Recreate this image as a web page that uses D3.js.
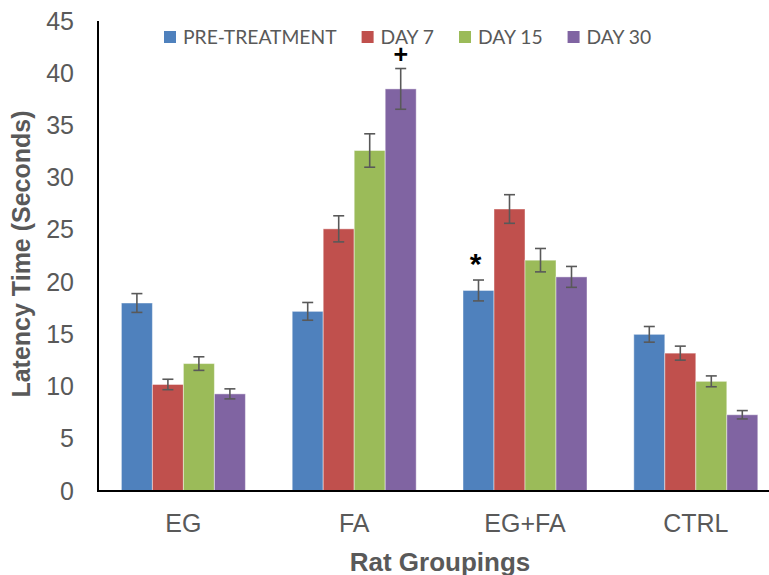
<!DOCTYPE html>
<html>
<head>
<meta charset="utf-8">
<script src="https://cdn.jsdelivr.net/npm/d3@7/dist/d3.min.js"></script>
<style>
  html, body { margin: 0; padding: 0; background: #fff; }
  svg { display: block; }
</style>
</head>
<body>
<svg id="chart" width="769" height="575"></svg>
<script>
// ---- Data ----
const categories = ["EG", "FA", "EG+FA", "CTRL"];
const seriesNames = ["PRE-TREATMENT", "DAY 7", "DAY 15", "DAY 30"];
const preTreatment = [18.0, 17.2, 19.2, 15.0];
const day7 = [10.2, 25.1, 27.0, 13.2];
const day15 = [12.2, 32.6, 22.1, 10.5];
const day30 = [9.3, 38.5, 20.5, 7.3];
const errPre = [0.9, 0.85, 1.0, 0.75];
const errDay7 = [0.5, 1.25, 1.37, 0.67];
const errDay15 = [0.65, 1.6, 1.12, 0.52];
const errDay30 = [0.48, 1.95, 1.0, 0.4];
const yTicks = [0, 5, 10, 15, 20, 25, 30, 35, 40, 45];
const annotations = [
  { category: "FA", series: "DAY 30", symbol: "+" },
  { category: "EG+FA", series: "PRE-TREATMENT", symbol: "*" }
];

const seriesValues = [preTreatment, day7, day15, day30];
const seriesErrors = [errPre, errDay7, errDay15, errDay30];
const colors = ["#4F81BD", "#C0504D", "#9BBB59", "#8064A2"];

const rows = [];
categories.forEach((c, i) => {
  seriesNames.forEach((s, j) => {
    rows.push({ category: c, series: s, value: seriesValues[j][i], err: seriesErrors[j][i] });
  });
});

// ---- Layout ----
const svg = d3.select("#chart");
const plotLeft = 98, plotTop = 21, plotBottom = 491;
const step = 170.8;
const plotRight = plotLeft + step * categories.length;

const x = d3.scaleBand().domain(categories).range([plotLeft, plotRight]).paddingInner(0.274).paddingOuter(0.137);
const xs = d3.scaleBand().domain(seriesNames).range([0, x.bandwidth()]);
const y = d3.scaleLinear().domain([0, 45]).range([plotBottom, plotTop]);
const color = d3.scaleOrdinal().domain(seriesNames).range(colors);

const textColor = "#595959";

// Bars
svg.append("g").selectAll("rect").data(rows).join("rect")
  .attr("x", d => x(d.category) + xs(d.series))
  .attr("y", d => y(d.value))
  .attr("width", xs.bandwidth())
  .attr("height", d => y(0) - y(d.value))
  .attr("fill", d => color(d.series))
  .attr("stroke", "#ffffff")
  .attr("stroke-opacity", 0.45)
  .attr("stroke-width", 1);

// Error bars
const eb = svg.append("g").attr("stroke", "#595959").attr("stroke-width", 1.6).attr("fill", "none");
const capHalf = 5.5;
rows.forEach(d => {
  const cx = x(d.category) + xs(d.series) + xs.bandwidth() / 2;
  eb.append("line").attr("x1", cx).attr("x2", cx).attr("y1", y(d.value + d.err)).attr("y2", y(d.value - d.err));
  eb.append("line").attr("x1", cx - capHalf).attr("x2", cx + capHalf).attr("y1", y(d.value + d.err)).attr("y2", y(d.value + d.err));
  eb.append("line").attr("x1", cx - capHalf).attr("x2", cx + capHalf).attr("y1", y(d.value - d.err)).attr("y2", y(d.value - d.err));
});

// Annotations
annotations.forEach(a => {
  const d = rows.find(r => r.category === a.category && r.series === a.series);
  const cx = x(d.category) + xs(d.series) + xs.bandwidth() / 2;
  const t = svg.append("text")
    .attr("text-anchor", "middle")
    .attr("font-family", "Liberation Sans, Arial, sans-serif")
    .attr("font-weight", "bold").attr("fill", "#000")
    .text(a.symbol);
  if (a.symbol === "+") {
    t.attr("x", cx).attr("y", y(d.value + d.err) - 6).attr("font-size", 25);
  } else {
    t.attr("x", cx - 3).attr("y", y(d.value + d.err) - 6).attr("font-size", 30);
  }
});

// Axes
const yAxis = d3.axisLeft(y).tickValues(yTicks).tickSize(0).tickPadding(24);
const gy = svg.append("g").attr("transform", `translate(${plotLeft},0)`).call(yAxis);
gy.select(".domain").remove();
gy.selectAll("text").attr("font-family", "Liberation Sans, Arial, sans-serif")
  .attr("font-size", 25).attr("fill", textColor);

const xAxis = d3.axisBottom(x).tickSize(0).tickPadding(23);
const gx = svg.append("g").attr("transform", `translate(0,${plotBottom})`).call(xAxis);
gx.select(".domain").remove();
gx.selectAll("text").attr("font-family", "Liberation Sans, Arial, sans-serif")
  .attr("font-size", 25).attr("fill", textColor);

// Axis lines
svg.append("line").attr("x1", plotLeft).attr("x2", plotLeft).attr("y1", plotTop).attr("y2", plotBottom + 1)
  .attr("stroke", "#000").attr("stroke-width", 2);
svg.append("line").attr("x1", plotLeft - 1).attr("x2", 769).attr("y1", plotBottom).attr("y2", plotBottom)
  .attr("stroke", "#000").attr("stroke-width", 2);

// Axis titles
svg.append("text").attr("x", 440).attr("y", 571)
  .attr("text-anchor", "middle")
  .attr("font-family", "Liberation Sans, Arial, sans-serif")
  .attr("font-weight", "bold").attr("font-size", 26).attr("fill", textColor)
  .text("Rat Groupings");

svg.append("text").attr("transform", "translate(30,254) rotate(-90)")
  .attr("text-anchor", "middle")
  .attr("font-family", "Liberation Sans, Arial, sans-serif")
  .attr("font-weight", "bold").attr("font-size", 25).attr("fill", textColor)
  .text("Latency Time (Seconds)");

// Legend
const legend = svg.append("g");
let lx = 164;
seriesNames.forEach((s, i) => {
  const g = legend.append("g");
  g.append("rect").attr("x", lx).attr("y", 31).attr("width", 12).attr("height", 12).attr("fill", colors[i]);
  const t = g.append("text").attr("x", lx + 19).attr("y", 43.5)
    .attr("font-family", "Lato, Carlito, Calibri, sans-serif")
    .attr("font-size", 19.3).attr("fill", textColor).text(s);
  lx += 19 + t.node().getComputedTextLength() + 25;
});
</script>
</body>
</html>
